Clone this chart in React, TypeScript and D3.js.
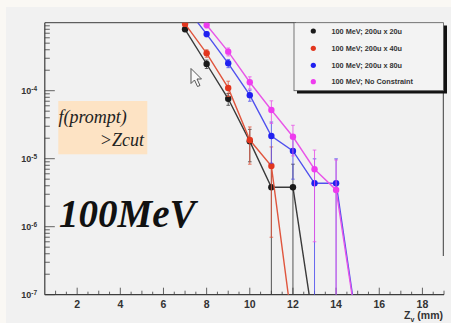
import React, { useRef, useEffect } from "react";
import * as d3 from "d3";

// bin centres (Zv, mm)
const zv = [7, 8, 9, 10, 11, 12, 13, 14, 15];

// fraction of prompt events beyond Zcut, one array per selection (null = not drawn)
const black = [8.0e-4, 2.47e-4, 7.6e-5, 1.8e-5, 3.8e-6, 3.8e-6, 3e-8, null, null];
const red = [9.6e-4, 3.55e-4, 1.1e-4, 1.88e-5, 7.8e-6, 3e-8, null, null, null];
const blue = [1.75e-3, 6.8e-4, 2.53e-4, 8.6e-5, 2.16e-5, 1.3e-5, 4.35e-6, 4.35e-6, 3e-8];
const magenta = [2.5e-3, 9.25e-4, 3.75e-4, 1.33e-4, 5.2e-5, 2.1e-5, 7.0e-6, 3.47e-6, 2.8e-8];

const blackErr = [0.6e-4, 0.35e-4, 1.5e-5, 0.9e-5, 4.5e-6, 4.5e-6, 0, 0, 0];
const redErr = [0.7e-4, 0.45e-4, 2.8e-5, 1.05e-5, 7.1e-6, 0, 0, 0, 0];
const blueErr = [1.2e-4, 0.6e-4, 0.35e-4, 1.6e-5, 1.3e-5, 8e-6, 5.6e-6, 5.6e-6, 0];
const magentaErr = [1.5e-4, 0.9e-4, 0.5e-4, 2.7e-5, 1.9e-5, 1.0e-5, 6.4e-6, 6.1e-6, 0];

const labels = [
  "100 MeV; 200u x 20u",
  "100 MeV; 200u x 40u",
  "100 MeV; 200u x 80u",
  "100 MeV; No Constraint",
];
const colors = ["#1a1a1a", "#e2361e", "#2020f0", "#ee3cee"];
const lineColors = ["#3a3a3a", "#e0563e", "#5050ee", "#e856e8"];

const xTicks = [2, 4, 6, 8, 10, 12, 14, 16, 18];
const yExps = [-7, -6, -5, -4];

const SANS = "'Liberation Sans', Arial, Helvetica, sans-serif";
const SERIF = "'Liberation Serif', 'Times New Roman', Times, serif";

const App = () => {
  const plot = useRef(null);
  const width = 451;
  const height = 323;

  useEffect(() => {
    const svg = d3.select(plot.current);
    svg.selectAll("*").remove();

    const left = 44.8, right = 444, top = 22.7, bottom = 294.7;
    const x = d3.scaleLinear().domain([0.5, 19]).range([left, right]);
    const y = d3.scaleLog().domain([1e-7, 1e-3]).range([bottom, top]);

    // page background
    svg.append("rect").attr("width", width).attr("height", height).attr("fill", "#f1f1f1");
    svg.append("rect").attr("width", width).attr("height", 7).attr("fill", "#faf8f4");
    svg.append("rect").attr("width", 6).attr("height", height).attr("fill", "#faf8f4");

    svg.append("defs").append("clipPath").attr("id", "plotclip")
      .append("rect").attr("x", left).attr("y", top)
      .attr("width", right - left).attr("height", bottom - top);

    const axisCol = "#3c3c3c";

    // frame
    svg.append("line").attr("x1", left).attr("x2", left).attr("y1", top).attr("y2", bottom)
      .attr("stroke", axisCol).attr("stroke-width", 1.2);
    svg.append("line").attr("x1", left).attr("x2", right).attr("y1", bottom).attr("y2", bottom)
      .attr("stroke", axisCol).attr("stroke-width", 1.2);
    svg.append("line").attr("x1", left).attr("x2", 296).attr("y1", top).attr("y2", top)
      .attr("stroke", axisCol).attr("stroke-width", 1);
    svg.append("line").attr("x1", 443.3).attr("x2", 443.3).attr("y1", 92).attr("y2", 256)
      .attr("stroke", axisCol).attr("stroke-width", 1);

    // y ticks (log, inside)
    const yTickG = svg.append("g");
    for (let e = -7; e <= -4; e++) {
      for (let m = 1; m <= 9; m++) {
        const v = m * Math.pow(10, e);
        const len = m === 1 ? 10 : 5;
        yTickG.append("line").attr("x1", left).attr("x2", left + len)
          .attr("y1", y(v)).attr("y2", y(v)).attr("stroke", axisCol).attr("stroke-width", 0.8);
      }
    }
    yExps.forEach(e => {
      const t = svg.append("text").attr("x", 37).attr("y", y(Math.pow(10, e)) + 3.5)
        .attr("text-anchor", "end").attr("font-family", SANS)
        .attr("font-weight", "bold").attr("font-size", 9).attr("fill", "#333");
      t.append("tspan").text("10");
      t.append("tspan").attr("dy", -3.5).attr("font-size", 6.5).text(`${e}`);
    });

    // x ticks
    const xTickG = svg.append("g");
    for (let v = 1; v <= 19; v += 0.5) {
      const len = v % 2 === 0 ? 7 : (v % 1 === 0 ? 4 : 3);
      xTickG.append("line").attr("x1", x(v)).attr("x2", x(v))
        .attr("y1", bottom).attr("y2", bottom - len).attr("stroke", axisCol).attr("stroke-width", 0.8);
    }
    svg.append("g").selectAll("text").data(xTicks).join("text")
      .attr("x", d => x(d)).attr("y", 307.5)
      .attr("text-anchor", "middle").attr("font-family", SANS)
      .attr("font-weight", "bold").attr("font-size", 10.5).attr("fill", "#333")
      .text(d => d);

    const xt = svg.append("text").attr("x", 443).attr("y", 319).attr("text-anchor", "end")
      .attr("font-family", SANS).attr("font-weight", "bold")
      .attr("font-size", 10.5).attr("fill", "#333");
    xt.append("tspan").text("Z");
    xt.append("tspan").attr("dy", 2.5).attr("font-size", 7).text("v");
    xt.append("tspan").attr("dy", -2.5).text(" (mm)");

    // annotation box
    svg.append("rect").attr("x", 58.3).attr("y", 101).attr("width", 89).attr("height", 53.3)
      .attr("fill", "#fde3c4");
    svg.append("text").attr("x", 58.5).attr("y", 123).attr("font-family", SERIF)
      .attr("font-style", "italic").attr("font-size", 18).attr("fill", "#222").text("f(prompt)");
    svg.append("text").attr("x", 144).attr("y", 146).attr("text-anchor", "end")
      .attr("font-family", SERIF)
      .attr("font-style", "italic").attr("font-size", 18).attr("fill", "#222").text(">Zcut");
    svg.append("text").attr("x", 59).attr("y", 227).attr("font-family", SERIF)
      .attr("font-style", "italic").attr("font-weight", "bold").attr("font-size", 39)
      .attr("fill", "#111").text("100MeV");

    // data
    const series = [
      { vals: black, errs: blackErr },
      { vals: red, errs: redErr },
      { vals: blue, errs: blueErr },
      { vals: magenta, errs: magentaErr },
    ];
    const dataG = svg.append("g").attr("clip-path", "url(#plotclip)");
    const line = d3.line<any>()
      .defined(d => d.v !== null)
      .x(d => x(d.z)).y(d => y(d.v));

    series.forEach((s, i) => {
      const pts = zv.map((z, j) => ({ z, v: s.vals[j], e: s.errs[j] }));
      const g = dataG.append("g");
      g.append("path").attr("d", line(pts)).attr("fill", "none")
        .attr("stroke", lineColors[i]).attr("stroke-width", 1.4);
      const shown = pts.filter(d => d.v !== null && d.v >= 1e-7);
      shown.forEach(d => {
        const hi = y(d.v + d.e);
        const lo = d.v - d.e > 1e-8 ? y(d.v - d.e) : bottom + 5;
        g.append("line").attr("x1", x(d.z)).attr("x2", x(d.z)).attr("y1", hi).attr("y2", lo)
          .attr("stroke", lineColors[i]).attr("stroke-width", 1).attr("opacity", 0.85);
        g.append("line").attr("x1", x(d.z) - 1.8).attr("x2", x(d.z) + 1.8).attr("y1", hi).attr("y2", hi)
          .attr("stroke", lineColors[i]).attr("stroke-width", 0.8);
        if (lo < bottom) {
          g.append("line").attr("x1", x(d.z) - 1.8).attr("x2", x(d.z) + 1.8).attr("y1", lo).attr("y2", lo)
            .attr("stroke", lineColors[i]).attr("stroke-width", 0.8);
        }
      });
      g.selectAll("circle").data(shown).join("circle")
        .attr("cx", d => x(d.z)).attr("cy", d => y(d.v)).attr("r", 3.2)
        .attr("fill", colors[i]);
    });

    // legend
    const lg = svg.append("g");
    lg.append("rect").attr("x", 297).attr("y", 25.5).attr("width", 150).attr("height", 68).attr("fill", "#111");
    lg.append("rect").attr("x", 294).attr("y", 22.7).attr("width", 149.5).attr("height", 68)
      .attr("fill", "#f3f3f3").attr("stroke", "#555").attr("stroke-width", 0.8);
    labels.forEach((l, i) => {
      const ly = [31, 48.3, 65.3, 81.7][i];
      lg.append("circle").attr("cx", 313.3).attr("cy", ly).attr("r", 2.6).attr("fill", colors[i]);
      lg.append("text").attr("x", 331.5).attr("y", ly + 2.6)
        .attr("font-family", SANS).attr("font-weight", "bold")
        .attr("font-size", 7.3).attr("fill", "#333").text(l);
    });

    // mouse cursor captured in the screenshot
    svg.append("path")
      .attr("d", "M0,0 L0,15 L3.5,11.5 L6.5,18 L9,17 L6,10.5 L10.5,10.5 Z")
      .attr("transform", "translate(191,68.5)")
      .attr("fill", "#fafafa").attr("stroke", "#444").attr("stroke-width", 0.9);
  });

  return (
    <div style={{ position: "fixed", left: 0, top: 0 }}>
      <svg ref={plot} width={width} height={height} style={{ display: "block" }} />
    </div>
  );
};

export default App;
